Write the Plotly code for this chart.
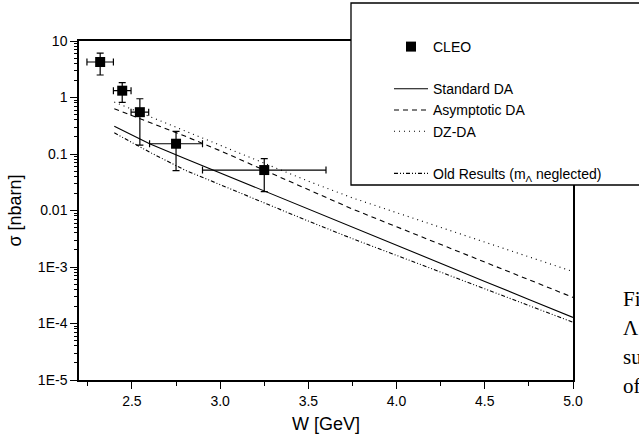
import plotly.graph_objects as go

# ---------------- data ----------------
cleo_w = [2.32, 2.445, 2.545, 2.75, 3.25]
cleo_w_err = [0.075, 0.05, 0.05, 0.15, 0.35]
cleo_sigma = [4.25, 1.32, 0.55, 0.152, 0.052]
cleo_sigma_hi = [6.1, 1.83, 0.95, 0.252, 0.083]
cleo_sigma_lo = [2.5, 0.82, 0.143, 0.0506, 0.0215]

w_grid = [2.4, 2.6, 2.8, 3.0, 3.25, 3.5, 3.75, 4.0, 4.25, 4.5, 4.75, 5.0]
standard_da = [0.310, 0.152, 0.0836, 0.0462, 0.0220, 0.0105, 5.02e-3, 2.41e-3,
               1.16e-3, 5.56e-4, 2.67e-4, 1.28e-4]
asymptotic_da = [0.634, 0.362, 0.2075, 0.1143, 0.0521, 0.0230, 0.0106, 5.15e-3,
                 2.51e-3, 1.22e-3, 5.96e-4, 2.90e-4]
dz_da = [0.830, 0.461, 0.2566, 0.143, 0.0687, 0.0330, 0.0167, 9.14e-3,
         5.02e-3, 2.75e-3, 1.51e-3, 8.30e-4]
old_results = [0.237, 0.108, 0.0519, 0.0286, 0.01365, 6.49e-3, 3.17e-3, 1.60e-3,
               8.09e-4, 4.09e-4, 2.07e-4, 1.05e-4]

y_tickvals = [1e-5, 1e-4, 1e-3, 1e-2, 0.1, 1, 10]
y_ticktext = ["1E-5", "1E-4", "1E-3", "0.01", "0.1", "1", "10"]
x_tickvals = [2.5, 3.0, 3.5, 4.0, 4.5, 5.0]
x_ticktext = ["2.5", "3.0", "3.5", "4.0", "4.5", "5.0"]
x_minor = [2.25, 2.75, 3.25, 3.75, 4.25, 4.75]
y_minor = [k * 10.0 ** e for e in range(-5, 1) for k in range(2, 10)]

caption_fragments = ["Fi", "Λ", "su", "of"]

# ---------------- figure ----------------
FONT = "Liberation Sans, Arial, sans-serif"
fig = go.Figure()

fig.add_trace(go.Scatter(
    x=cleo_w, y=cleo_sigma, mode="markers", name="CLEO", legendgroup="a",
    marker=dict(symbol="square", size=10, color="black"),
    error_y=dict(type="data", symmetric=False,
                 array=[h - s for h, s in zip(cleo_sigma_hi, cleo_sigma)],
                 arrayminus=[s - l for s, l in zip(cleo_sigma, cleo_sigma_lo)],
                 color="black", thickness=1.2, width=3.5),
    error_x=dict(type="data", array=cleo_w_err, color="black",
                 thickness=1.2, width=3.5),
))

line_specs = [
    ("Standard DA", standard_da, "solid", "b"),
    ("Asymptotic DA", asymptotic_da, "5px,4px", "b"),
    ("DZ-DA", dz_da, "1px,4px", "b"),
    ("Old Results (m<sub>Λ</sub> neglected)", old_results, "4px,2px,1px,2px,1px,2px", "c"),
]
for name, vals, dash, grp in line_specs:
    fig.add_trace(go.Scatter(
        x=w_grid, y=vals, mode="lines", name=name, legendgroup=grp,
        line=dict(color="black", width=1.1, dash=dash),
    ))

L, R, T, B = 79, 66, 41, 60
W, H = 639, 440
pw, ph = W - L - R, H - T - B


def px_x(px):
    return (px - L) / pw


def px_y(py):
    return (H - B - py) / ph


fig.update_layout(
    width=W, height=H,
    margin=dict(l=L, r=R, t=T, b=B, autoexpand=False),
    paper_bgcolor="white", plot_bgcolor="white",
    font=dict(family=FONT, color="black", size=14),
    showlegend=True,
    legend=dict(
        x=px_x(389), y=px_y(31), xanchor="left", yanchor="top",
        bgcolor="rgba(0,0,0,0)", borderwidth=0, itemwidth=34,
        font=dict(family=FONT, size=14, color="black"),
        traceorder="grouped", tracegroupgap=21,
    ),
    shapes=[dict(
        type="rect", xref="paper", yref="paper",
        x0=px_x(351), x1=px_x(720), y0=px_y(185), y1=px_y(3),
        line=dict(color="black", width=1.3), fillcolor="white", layer="above",
    )],
)

for i, txt in enumerate(caption_fragments):
    base = 306 + 29 * i
    fig.add_annotation(
        xref="paper", yref="paper", x=px_x(621), y=px_y(base - 7),
        xanchor="left", yanchor="middle", text=txt, showarrow=False,
        font=dict(family="Liberation Serif, Times New Roman, serif", size=21, color="black"),
    )

fig.update_xaxes(
    range=[2.2, 5.0], showline=True, linecolor="black", linewidth=1.5, mirror=True,
    showgrid=False, zeroline=False, automargin=False,
    tickmode="array", tickvals=x_tickvals, ticktext=x_ticktext,
    ticks="outside", ticklen=7, tickwidth=1.2, tickcolor="black",
    tickfont=dict(family=FONT, size=14),
    minor=dict(tickmode="array", tickvals=x_minor, ticks="outside", ticklen=4,
               tickwidth=1.2, tickcolor="black", showgrid=False),
    title=dict(text="W [GeV]", font=dict(family=FONT, size=18), standoff=10),
)
fig.update_yaxes(
    type="log", range=[-5, 1], showline=True, linecolor="black", linewidth=1.5, mirror=True,
    showgrid=False, zeroline=False, automargin=False,
    tickmode="array", tickvals=y_tickvals, ticktext=y_ticktext,
    ticks="outside", ticklen=7, tickwidth=1.2, tickcolor="black",
    tickfont=dict(family=FONT, size=14),
    minor=dict(tickmode="array", tickvals=y_minor, ticks="outside", ticklen=3,
               tickwidth=1, tickcolor="black", showgrid=False),
    title=dict(text="σ [nbarn]", font=dict(family=FONT, size=18), standoff=12),
)

fig.write_html("out.html", config={"displayModeBar": False},
               post_script="document.body.style.margin='0';document.body.style.overflow='hidden';")
